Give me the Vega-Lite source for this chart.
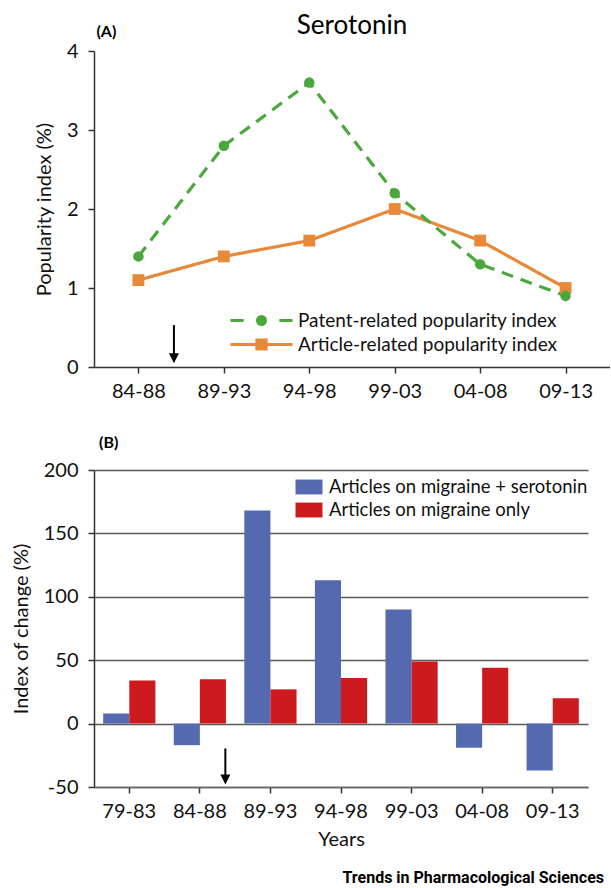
{
  "$schema": "https://vega.github.io/schema/vega-lite/v6.json",
  "padding": {"left": 11, "top": 13, "right": 0, "bottom": 0},
  "config": {
    "font": "Lato",
    "view": {"stroke": null},
    "axis": {"labelColor": "#111", "titleColor": "#111", "domainColor": "#333", "tickColor": "#333", "labelFont": "Lato", "titleFont": "Lato", "titleFontWeight": "normal", "labelFontSize": 20, "titleFontSize": 20, "tickSize": 6, "domainWidth": 1.5, "tickWidth": 1.5},
    "legend": {"labelFont": "Lato", "labelColor": "#111", "labelFontSize": 19, "labelLimit": 400},
    "title": {"font": "Lato", "color": "#000"}
  },
  "title": {"text": "Trends in Pharmacological Sciences", "orient": "bottom", "anchor": "end", "font": "Roboto", "fontSize": 16, "fontWeight": "bold", "color": "#000", "offset": 21, "dx": -6},
  "resolve": {"scale": {"color": "independent", "shape": "independent", "fill": "independent", "stroke": "independent", "size": "independent", "strokeDash": "independent"}},
  "datasets": {
    "popularity": [
      {"period": "84-88", "series": "Article-related popularity index", "value": 1.1},
      {"period": "89-93", "series": "Article-related popularity index", "value": 1.4},
      {"period": "94-98", "series": "Article-related popularity index", "value": 1.6},
      {"period": "99-03", "series": "Article-related popularity index", "value": 2.0},
      {"period": "04-08", "series": "Article-related popularity index", "value": 1.6},
      {"period": "09-13", "series": "Article-related popularity index", "value": 1.0},
      {"period": "84-88", "series": "Patent-related popularity index", "value": 1.4},
      {"period": "89-93", "series": "Patent-related popularity index", "value": 2.8},
      {"period": "94-98", "series": "Patent-related popularity index", "value": 3.6},
      {"period": "99-03", "series": "Patent-related popularity index", "value": 2.2},
      {"period": "04-08", "series": "Patent-related popularity index", "value": 1.3},
      {"period": "09-13", "series": "Patent-related popularity index", "value": 0.9}
    ],
    "change": [
      {"period": "79-83", "series": "Articles on migraine + serotonin", "value": 8},
      {"period": "84-88", "series": "Articles on migraine + serotonin", "value": -17},
      {"period": "89-93", "series": "Articles on migraine + serotonin", "value": 168},
      {"period": "94-98", "series": "Articles on migraine + serotonin", "value": 113},
      {"period": "99-03", "series": "Articles on migraine + serotonin", "value": 90},
      {"period": "04-08", "series": "Articles on migraine + serotonin", "value": -19},
      {"period": "09-13", "series": "Articles on migraine + serotonin", "value": -37},
      {"period": "79-83", "series": "Articles on migraine only", "value": 34},
      {"period": "84-88", "series": "Articles on migraine only", "value": 35},
      {"period": "89-93", "series": "Articles on migraine only", "value": 27},
      {"period": "94-98", "series": "Articles on migraine only", "value": 36},
      {"period": "99-03", "series": "Articles on migraine only", "value": 49},
      {"period": "04-08", "series": "Articles on migraine only", "value": 44},
      {"period": "09-13", "series": "Articles on migraine only", "value": 20}
    ],
    "arrowA": [{"period": "84-88", "value": 0.53, "value2": 0.15}],
    "headA": [{"period": "84-88", "value": 0.11}],
    "labelA": [{"period": "84-88", "value": 4.24, "label": "(A)"}],
    "arrowB": [{"period": "84-88", "value": -19.6, "value2": -41}],
    "headB": [{"period": "84-88", "value": -44}]
  },
  "spacing": 34,
  "vconcat": [
    {
      "width": 516,
      "height": 316,
      "title": {"text": "Serotonin", "fontSize": 26, "fontWeight": "normal", "frame": "group", "anchor": "middle", "offset": -15},
      "resolve": {"scale": {"shape": "independent", "size": "independent", "fill": "independent", "stroke": "independent"}},
      "layer": [
        {
          "data": {"name": "popularity"},
          "mark": {"type": "line", "strokeWidth": 3.2},
          "encoding": {
            "x": {"field": "period", "type": "ordinal", "sort": null,
                  "scale": {"type": "point", "padding": 0.52, "domain": ["84-88", "89-93", "94-98", "99-03", "04-08", "09-13"]},
                  "axis": {"title": null, "labelAngle": 0, "labelPadding": 8}},
            "y": {"field": "value", "type": "quantitative", "scale": {"domain": [0, 4], "nice": false},
                  "axis": {"values": [0, 1, 2, 3, 4], "format": "d", "grid": false, "title": "Popularity index (%)", "labelPadding": 10, "titlePadding": 12}},
            "color": {"field": "series", "type": "nominal", "scale": {"domain": ["Patent-related popularity index", "Article-related popularity index"], "range": ["#4AA83C", "#E8893A"]}, "legend": null},
            "strokeDash": {"field": "series", "type": "nominal", "scale": {"domain": ["Patent-related popularity index", "Article-related popularity index"], "range": [[12, 8], [1, 0]]}, "legend": null}
          }
        },
        {
          "data": {"name": "popularity"},
          "mark": {"type": "point", "filled": true, "opacity": 1},
          "encoding": {
            "x": {"field": "period", "type": "ordinal", "sort": null},
            "y": {"field": "value", "type": "quantitative"},
            "color": {"field": "series", "type": "nominal", "legend": null},
            "shape": {"field": "series", "type": "nominal", "scale": {"domain": ["Patent-related popularity index", "Article-related popularity index"], "range": ["circle", "square"]}, "legend": null},
            "size": {"field": "series", "type": "nominal", "scale": {"domain": ["Patent-related popularity index", "Article-related popularity index"], "range": [110, 140]}, "legend": null}
          }
        },
        {
          "data": {"name": "popularity"},
          "mark": {"type": "point", "filled": true, "opacity": 0},
          "encoding": {
            "x": {"field": "period", "type": "ordinal", "sort": null},
            "y": {"field": "value", "type": "quantitative"},
            "fill": {"field": "series", "type": "nominal", "scale": {"domain": ["Patent-related popularity index", "Article-related popularity index"], "range": ["#4AA83C", "#E8893A"]},
                     "legend": {"title": null, "orient": "none", "legendX": 157, "legendY": 259, "symbolSize": 289, "symbolStrokeWidth": 3.2, "symbolOpacity": 1, "labelOffset": 26, "rowPadding": 2, "padding": 0}},
            "stroke": {"field": "series", "type": "nominal", "scale": {"domain": ["Patent-related popularity index", "Article-related popularity index"], "range": ["#4AA83C", "#E8893A"]},
                     "legend": {"title": null, "orient": "none", "legendX": 157, "legendY": 259, "symbolSize": 289, "symbolStrokeWidth": 3.2, "symbolOpacity": 1, "labelOffset": 26, "rowPadding": 2, "padding": 0}},
            "shape": {"field": "series", "type": "nominal", "scale": {"domain": ["Patent-related popularity index", "Article-related popularity index"],
                      "range": ["M-3.65,0H-2.1M2.1,0H3.65M-0.46,0A0.46,0.46,0,1,1,0.46,0A0.46,0.46,0,1,1,-0.46,0Z", "M-3.65,0H3.65M-0.53,-0.53H0.53V0.53H-0.53Z"]},
                     "legend": {"title": null, "orient": "none", "legendX": 157, "legendY": 259, "symbolSize": 289, "symbolStrokeWidth": 3.2, "symbolOpacity": 1, "labelOffset": 26, "rowPadding": 2, "padding": 0}}
          }
        },
        {
          "data": {"name": "arrowA"},
          "mark": {"type": "rule", "strokeWidth": 2, "color": "#000", "xOffset": 35.5},
          "encoding": {
            "x": {"field": "period", "type": "ordinal", "sort": null},
            "y": {"field": "value", "type": "quantitative"},
            "y2": {"field": "value2"}
          }
        },
        {
          "data": {"name": "headA"},
          "mark": {"type": "point", "filled": true, "color": "#000", "opacity": 1, "shape": "M-1,-1L1,-1L0,1Z", "size": 100, "xOffset": 35.5},
          "encoding": {
            "x": {"field": "period", "type": "ordinal", "sort": null},
            "y": {"field": "value", "type": "quantitative"}
          }
        },
        {
          "data": {"name": "labelA"},
          "mark": {"type": "text", "align": "left", "baseline": "middle", "dx": -42, "fontSize": 16, "fontWeight": "bold", "color": "#000", "font": "Lato"},
          "encoding": {
            "x": {"field": "period", "type": "ordinal", "sort": null},
            "y": {"field": "value", "type": "quantitative"},
            "text": {"field": "label"}
          }
        }
      ]
    },
    {
      "width": 494,
      "height": 317,
      "title": {"text": "(B)", "anchor": "start", "frame": "group", "fontSize": 16, "fontWeight": "bold", "dx": 5, "offset": 9},
      "layer": [
        {
          "data": {"name": "change"},
          "mark": {"type": "bar"},
          "encoding": {
            "x": {"field": "period", "type": "nominal", "sort": null,
                  "scale": {"paddingInner": 0.26, "paddingOuter": 0.13, "domain": ["79-83", "84-88", "89-93", "94-98", "99-03", "04-08", "09-13"]},
                  "axis": {"title": "Years", "labelAngle": 0, "labelPadding": 8, "titlePadding": 8, "domainColor": "#666"}},
            "xOffset": {"field": "series", "type": "nominal", "scale": {"domain": ["Articles on migraine + serotonin", "Articles on migraine only"]}},
            "y": {"field": "value", "type": "quantitative", "scale": {"domain": [-50, 200], "nice": false},
                  "axis": {"values": [-50, 0, 50, 100, 150, 200], "labelExpr": "datum.value", "grid": true, "gridColor": "#5a5a5a", "gridWidth": 1.5, "title": "Index of change (%)", "labelPadding": 10, "titlePadding": 12}},
            "color": {"field": "series", "type": "nominal",
                      "scale": {"domain": ["Articles on migraine + serotonin", "Articles on migraine only"], "range": ["#5469AF", "#CD1A1F"]},
                      "legend": {"title": null, "orient": "none", "legendX": 203, "legendY": 5, "symbolSize": 576, "symbolStrokeWidth": 0,
                                 "symbolType": "M-1.125,-0.62H1.125V0.62H-1.125Z", "labelOffset": 8, "rowPadding": 1, "padding": 0, "labelFontSize": 18.5}}
          }
        },
        {
          "mark": {"type": "rule", "color": "#333", "strokeWidth": 2},
          "encoding": {"y": {"datum": 0, "type": "quantitative"}}
        },
        {
          "data": {"name": "arrowB"},
          "mark": {"type": "rule", "strokeWidth": 2, "color": "#000", "xOffset": 25.5},
          "encoding": {
            "x": {"field": "period", "type": "nominal", "sort": null},
            "y": {"field": "value", "type": "quantitative"},
            "y2": {"field": "value2"}
          }
        },
        {
          "data": {"name": "headB"},
          "mark": {"type": "point", "filled": true, "color": "#000", "opacity": 1, "shape": "M-1,-1L1,-1L0,1Z", "size": 100, "xOffset": 25.5},
          "encoding": {
            "x": {"field": "period", "type": "nominal", "sort": null},
            "y": {"field": "value", "type": "quantitative"}
          }
        }
      ]
    }
  ]
}
